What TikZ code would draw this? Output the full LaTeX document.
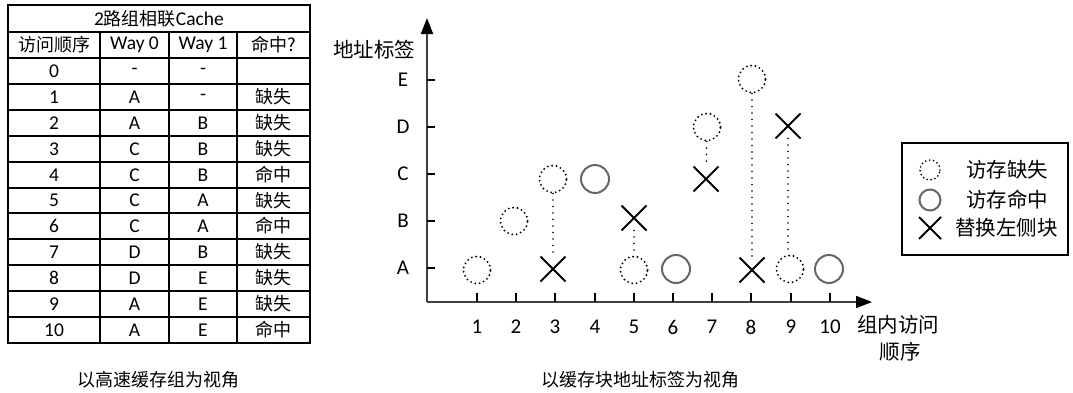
\documentclass[tikz,border=0pt]{standalone}
\usepackage{fontspec}
\setmainfont{Carlito}
\newfontfamily\cjk{Noto Sans CJK SC}
\usetikzlibrary{shapes.misc,arrows.meta}
\begin{document}
\begin{tikzpicture}[x=1pt,y=-1pt,
  cell/.style={inner sep=0pt, anchor=center, font=\fontsize{19.5}{22}\selectfont},
  tline/.style={line width=1.3pt},
  tout/.style={line width=1.8pt},
  axisline/.style={draw=black!75, line width=1.8pt, -{Triangle[length=16pt,width=12pt,color=black]}},
  tickm/.style={line width=1.6pt},
  ticklab/.style={inner sep=0pt, font=\fontsize{21}{24}\selectfont},
  cjklab/.style={inner sep=0pt, font=\cjk\fontsize{20.5}{24}\selectfont},
  caption/.style={inner sep=0pt, font=\cjk\fontsize{18}{20}\selectfont},
  miss/.style={circle, draw=black, line width=2.1pt, dash pattern=on 0pt off 4.4pt, line cap=round, minimum size=27pt, inner sep=0pt},
  hitc/.style={circle, draw=black!60, line width=2pt, minimum size=28pt, inner sep=0pt},
  xmark/.style={cross out, draw=black, line width=2pt, minimum size=23pt, inner sep=0pt},
  conn/.style={draw=black, line width=1.8pt, dash pattern=on 0pt off 6.5pt, line cap=round},
]
\useasboundingbox (0,0) rectangle (1073,392);

% ---------------- table ----------------
\def\colA{8}\def\colE{310}
\foreach \y in {32,58,84,110,136,162,188,213,239,265,291,317}
  \draw[tline] (\colA,\y) -- (\colE,\y);
\foreach \x in {100,169,237}
  \draw[tline] (\x,32) -- (\x,343);
\draw[tout] (\colA,5) rectangle (\colE,343);

\node[cell] (title) at (159,18.5) {2{\cjk\fontsize{18}{22}\selectfont 路组相联}Cache};
\node[cell, font=\cjk\fontsize{18}{22}\selectfont] (h0) at (54,45) {访问顺序};
\node[cell] (h1) at (134.5,45) {Way 0};
\node[cell] (h2) at (203,45) {Way 1};
\node[cell, font=\cjk\fontsize{18}{22}\selectfont] (h3) at (273.5,45) {命中?};

\foreach \i/\yy/\a/\b/\c in {
  0/71/-/-/,
  1/97/A/-/缺失,
  2/123/A/B/缺失,
  3/149/C/B/缺失,
  4/175/C/B/命中,
  5/200.5/C/A/缺失,
  6/226/C/A/命中,
  7/252/D/B/缺失,
  8/278/D/E/缺失,
  9/304/A/E/缺失,
  10/330/A/E/命中}{
  \node[cell] (r\i c0) at (54,\yy) {\i};
  \node[cell] (r\i c1) at (134.5,\yy) {\a};
  \node[cell] (r\i c2) at (203,\yy) {\b};
  \node[cell, font=\cjk\fontsize{18}{22}\selectfont] (r\i c3) at (273.5,\yy) {\c};
}

\node[caption] (cap1) at (158,380) {以高速缓存组为视角};

% ---------------- chart ----------------
\coordinate (O) at (427,302);
\coordinate (ytop) at (427,18);
\coordinate (xend) at (872,302);
\draw[axisline] (O) -- (ytop);
\draw[axisline] (O) -- (xend);

\node[cjklab] (ylab) at (374,50) {地址标签};

\foreach \n/\yy in {A/268,B/221,C/174,D/127,E/80}{
  \draw[tickm] (427,\yy) -- (435,\yy);
  \node[ticklab] (yl\n) at (403,\yy) {\n};
}
\foreach \i/\xx in {1/477,2/516,3/555,4/595,5/634,6/673,7/712,8/751,9/791,10/830}{
  \draw[tickm] (\xx,302) -- (\xx,293);
  \node[ticklab] (xl\i) at (\xx,327) {\i};
}
\node[cjklab, anchor=west] (xlab1) at (857,325) {组内访问};
\node[cjklab] (xlab2) at (900,352) {顺序};

% markers
\node[miss] (m1) at (477,270) {};
\node[miss] (m2) at (514,221) {};
\node[miss] (m3) at (553,179) {};
\node[xmark] (x3) at (553,269) {};
\node[hitc] (h4) at (595,179) {};
\node[xmark] (x5) at (634,218) {};
\node[miss] (m5) at (634,270) {};
\node[hitc] (h6) at (676,269) {};
\node[miss] (m7) at (707,127) {};
\node[xmark] (x7) at (706,179) {};
\node[miss] (m8) at (752,79) {};
\node[xmark] (x8) at (752,270) {};
\node[xmark] (x9) at (788,126) {};
\node[miss] (m9) at (790,269) {};
\node[hitc] (h10) at (829,269) {};

\draw[conn] (m3) -- (x3);
\draw[conn] (x5) -- (m5);
\draw[conn] (m7) -- (x7);
\draw[conn] (m8) -- (x8);
\draw[conn] (x9.south) -- (x9.south |- m9.north);

% legend
\node[draw, line width=1.6pt, minimum width=166pt, minimum height=112pt, inner sep=0pt] (legend) at (985,199) {};
\node[miss, minimum size=20pt, line width=1.9pt, dash pattern=on 0pt off 4pt] (lg1) at (930,170) {};
\node[hitc, minimum size=21pt] (lg2) at (930,200) {};
\node[xmark, minimum size=20pt] (lg3) at (930,228) {};
\node[cjklab, anchor=west] (lt1) at (966,170) {访存缺失};
\node[cjklab, anchor=west] (lt2) at (966,200) {访存命中};
\node[cjklab, anchor=west] (lt3) at (955,228) {替换左侧块};

\node[caption] (cap2) at (640,380) {以缓存块地址标签为视角};
\end{tikzpicture}
\end{document}
